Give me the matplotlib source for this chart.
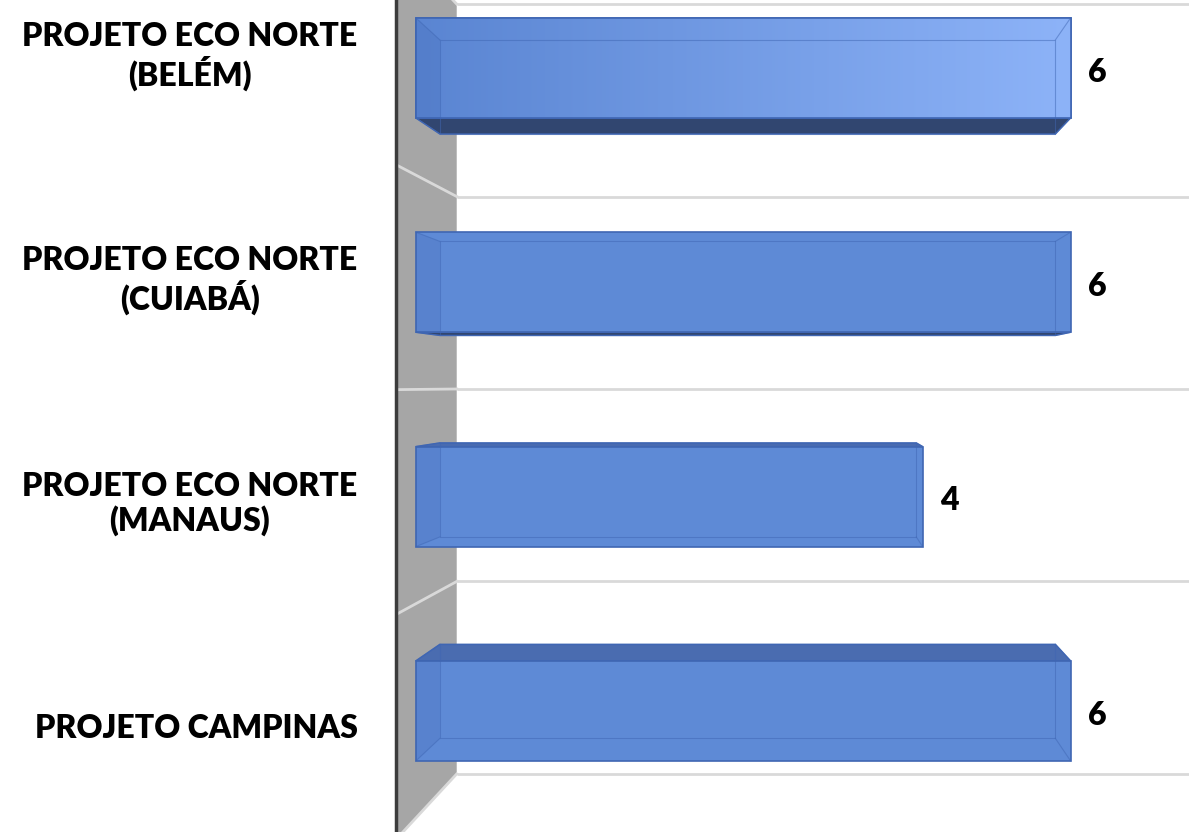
import numpy as np
import matplotlib
matplotlib.use('Agg')
import matplotlib.pyplot as plt
from matplotlib.patches import Polygon
from matplotlib.colors import LinearSegmentedColormap

# Data
categories = ['PROJETO ECO NORTE\n(BELÉM)', 'PROJETO ECO NORTE\n(CUIABÁ)',
              'PROJETO ECO NORTE\n(MANAUS)', 'PROJETO CAMPINAS']
values = [6, 6, 4, 6]

# Value axis floor (where the side wall sits)
BASE = -2.85

# Perspective set-up: vanishing point and depth scales (1 = bar front)
VX, VY = 2.57, 1.48
S_BAR_BACK = 0.94
S_WALL_FRONT = 1.045
S_WALL_BACK = 0.898
BAR_H = 0.467

FRONT = '#5e8ad6'
EDGE = '#3f66b3'
BOTTOM = '#314670'
TOP = '#4a6cb0'
WALL = '#a6a6a6'
GRID = '#d9d9d9'


def proj(x, y, s):
    return VX + s * (x - VX), VY + s * (y - VY)


fig = plt.figure(figsize=(11.89, 8.32), dpi=100)
ax = fig.add_axes([0, 0, 1, 1])
ax.set_xlim(-8.47, 7.6)
ax.set_ylim(3.565, -0.317)
ax.axis('off')

n = len(categories)
bounds = np.arange(n + 1) - 0.5

# back gridlines
for b in bounds:
    x1, y1 = proj(BASE, b, S_WALL_BACK)
    x2, y2 = proj(30, b, S_WALL_BACK)
    ax.plot([x1, x2], [y1, y2], color=GRID, lw=2, zorder=1, solid_capstyle='butt')

# side wall
wall = [proj(BASE, bounds[0], S_WALL_FRONT), proj(BASE, bounds[0], S_WALL_BACK),
        proj(BASE, bounds[-1], S_WALL_BACK), proj(BASE, bounds[-1], S_WALL_FRONT)]
ax.add_patch(Polygon(wall, closed=True, facecolor=WALL, edgecolor='none', zorder=2))
for b in bounds:
    x1, y1 = proj(BASE, b, S_WALL_BACK)
    x2, y2 = proj(BASE, b, S_WALL_FRONT)
    ax.plot([x1, x2], [y1, y2], color=GRID, lw=2, zorder=3)
wx, _ = proj(BASE, 0, S_WALL_FRONT)
ax.axvline(wx - 0.02, color='#3c3c3c', lw=2.5, zorder=4)

grad = LinearSegmentedColormap.from_list('barlight', ['#5a85d2', '#8db3f8'])

for i, v in enumerate(values):
    top, bot = i - BAR_H / 2, i + BAR_H / 2
    fl, fr = BASE, v
    bl, bt = proj(fl, top, S_BAR_BACK)
    br, bb = proj(fr, bot, S_BAR_BACK)
    # bottom face seen when bar sits above the vanishing point
    if bb > bot:
        ax.add_patch(Polygon([(fl, bot), (fr, bot), (br, bb), (bl, bb)], closed=True,
                             facecolor=BOTTOM, edgecolor=EDGE, lw=1, zorder=5))
    if bt < top:
        ax.add_patch(Polygon([(fl, top), (fr, top), (br, bt), (bl, bt)], closed=True,
                             facecolor=TOP, edgecolor=EDGE, lw=1, zorder=5))
    bar = ax.barh(i, v - BASE, left=BASE, height=BAR_H, color=FRONT,
                  edgecolor=EDGE, lw=1.2, zorder=6)[0]
    if i == 0:
        img = ax.imshow(np.linspace(0, 1, 256).reshape(1, -1), cmap=grad, aspect='auto',
                        extent=(fl, fr, bot, top), zorder=6.5, interpolation='bilinear')
        img.set_clip_path(bar)
        ax.add_patch(Polygon([(fl, top), (fr, top), (fr, bot), (fl, bot)], closed=True,
                             fill=False, edgecolor=EDGE, lw=1.2, zorder=7))
    # left end face, slightly darker through the translucent front
    ax.add_patch(Polygon([(fl, top), (bl, max(bt, top)), (bl, min(bb, bot)), (fl, bot)],
                         closed=True, facecolor='#3d63ad', alpha=0.18, edgecolor='none', zorder=7))
    # hidden edges showing through
    ax.plot([bl, br, br, bl, bl], [bt, bt, bb, bb, bt], color=EDGE, lw=0.8, alpha=0.5, zorder=7)
    for cx, cy, px, py in [(fl, top, bl, bt), (fr, top, br, bt), (fr, bot, br, bb), (fl, bot, bl, bb)]:
        ax.plot([cx, px], [cy, py], color=EDGE, lw=0.8, alpha=0.5, zorder=7)

    ax.annotate(str(v), xy=(v, i), xytext=(12.5, -3), textcoords='offset points',
                ha='left', va='center', fontsize=23, fontweight='heavy',
                family='Lato', color='black', zorder=8)

# category labels on the wall front plane
for i, lab in enumerate(categories):
    _, ly = proj(BASE, i, S_WALL_FRONT)
    ax.annotate(lab, xy=(wx, ly), xytext=(-29, -2), textcoords='offset points',
                ha='right', va='center', multialignment='center', fontsize=23,
                fontweight='heavy', family='Lato', linespacing=1.15, color='black')

fig.savefig('out.png', dpi=100)
